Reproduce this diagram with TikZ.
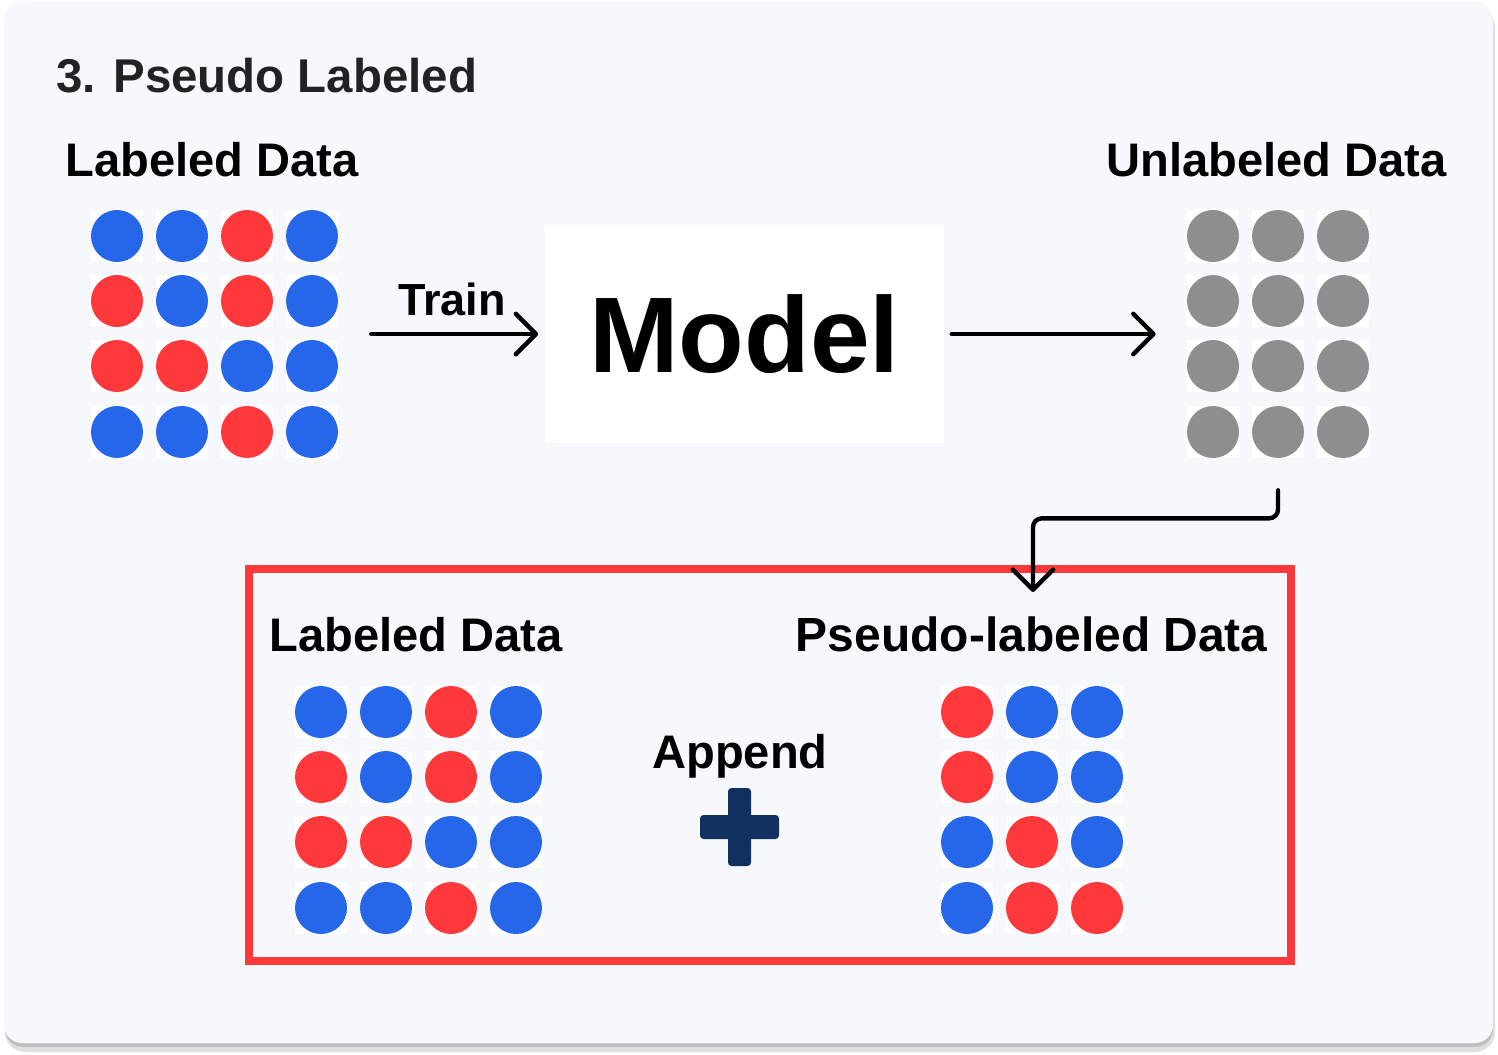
\documentclass[tikz,border=0pt]{standalone}
\usepackage{fontspec}
\setmainfont{Liberation Sans}
\usetikzlibrary{arrows.meta}
\definecolor{PLBlue}{HTML}{2567E8}
\definecolor{PLRed}{HTML}{FF383C}
\definecolor{PLGray}{HTML}{8E8E8E}
\definecolor{PLNavy}{HTML}{12305F}
\definecolor{PLCard}{HTML}{F7F8FC}
\definecolor{PLText}{HTML}{222222}
% one dot on its white tile, centre in px
\newcommand{\pldot}[3]{\fill[white] (#1-26,#2-26) rectangle ++(52,52); \fill[#3] (#1,#2) circle[radius=0.52cm];}
\tikzset{
  head/.style={font=\fontsize{26.8}{30}\selectfont\bfseries, inner sep=0pt},
  flow/.style={line width=2.5pt, line cap=round, line join=round, -{Straight Barb[round,length=11.5pt,width=23pt]}},
  dotgrid/.style={minimum height=4.96cm, inner sep=0pt}
}

\begin{document}
\begin{tikzpicture}[x=0.02cm,y=-0.02cm]
\path[use as bounding box] (0,0) rectangle (1498,1055);
% card
\fill[black!12,rounded corners=0.4cm] (5,6) rectangle (1495,1052);
\fill[black!25,rounded corners=0.36cm] (5,5) rectangle (1493,1047);
\fill[PLCard,rounded corners=0.36cm] (4,2) rectangle (1493,1043);
\node[head,anchor=base west,text=PLText,font=\fontsize{27}{30}\selectfont\bfseries] (title) at (56,92) {3. Pseudo Labeled};

% first row
\node[head,anchor=base west] (labtxt) at (65,176) {Labeled Data};
\node[head,anchor=base east] (unltxt) at (1447,176) {Unlabeled Data};
\node[dotgrid,minimum width=4.98cm] (labgrid) at (214.5,334) {};
\node[dotgrid,minimum width=3.64cm] (unlgrid) at (1278,334) {};
\foreach \c [count=\i from 0] in {PLBlue,PLBlue,PLRed,PLBlue} \pldot{117+65*\i}{236}{\c};
\foreach \c [count=\i from 0] in {PLRed,PLBlue,PLRed,PLBlue} \pldot{117+65*\i}{301}{\c};
\foreach \c [count=\i from 0] in {PLRed,PLRed,PLBlue,PLBlue} \pldot{117+65*\i}{366}{\c};
\foreach \c [count=\i from 0] in {PLBlue,PLBlue,PLRed,PLBlue} \pldot{117+65*\i}{432}{\c};
\foreach \r in {236,301,366,432}
  \foreach \i in {0,1,2} \pldot{1213+65*\i}{\r}{PLGray};
\node[fill=white,minimum width=8cm,minimum height=4.36cm,inner sep=0pt,
  font=\fontsize{61.2}{64}\selectfont\bfseries] (model) at (744.5,334) {Model};
\draw[flow,shorten <=0.64cm,shorten >=0.12cm] (labgrid.east) -- (model.west);
\node[head,anchor=base,font=\fontsize{25.6}{30}\selectfont\bfseries] (train) at (452,315) {Train};
\draw[flow,shorten <=0.14cm,shorten >=0.62cm] (model.east) -- (unlgrid.west);

% mixed set
\node[draw=PLRed,line width=4.5pt,minimum width=20.84cm,minimum height=7.84cm,inner sep=0pt] (mix) at (770,765) {};
\coordinate (drop) at (1033,592);
\draw[flow,rounded corners=5pt] ([yshift=-0.64cm]unlgrid.south) -- ++(0,28) -| (drop);
\node[head,anchor=base west] (mixlab) at (269,651) {Labeled Data};
\node[head,anchor=base east,font=\fontsize{27.3}{30}\selectfont\bfseries] (mixpse) at (1268,651) {Pseudo-labeled Data};
\foreach \c [count=\i from 0] in {PLBlue,PLBlue,PLRed,PLBlue} \pldot{321+65*\i}{712}{\c};
\foreach \c [count=\i from 0] in {PLRed,PLBlue,PLRed,PLBlue} \pldot{321+65*\i}{777}{\c};
\foreach \c [count=\i from 0] in {PLRed,PLRed,PLBlue,PLBlue} \pldot{321+65*\i}{842}{\c};
\foreach \c [count=\i from 0] in {PLBlue,PLBlue,PLRed,PLBlue} \pldot{321+65*\i}{908}{\c};
\foreach \c [count=\i from 0] in {PLRed,PLBlue,PLBlue} \pldot{967+65*\i}{712}{\c};
\foreach \c [count=\i from 0] in {PLRed,PLBlue,PLBlue} \pldot{967+65*\i}{777}{\c};
\foreach \c [count=\i from 0] in {PLBlue,PLRed,PLBlue} \pldot{967+65*\i}{842}{\c};
\foreach \c [count=\i from 0] in {PLBlue,PLRed,PLRed} \pldot{967+65*\i}{908}{\c};
\node[head,anchor=base] (append) at (740,768) {Append};
\fill[PLNavy,rounded corners=2pt] (700,815) rectangle (779,839);
\fill[PLNavy,rounded corners=2pt] (728,788) rectangle (751,866);
\end{tikzpicture}
\end{document}
